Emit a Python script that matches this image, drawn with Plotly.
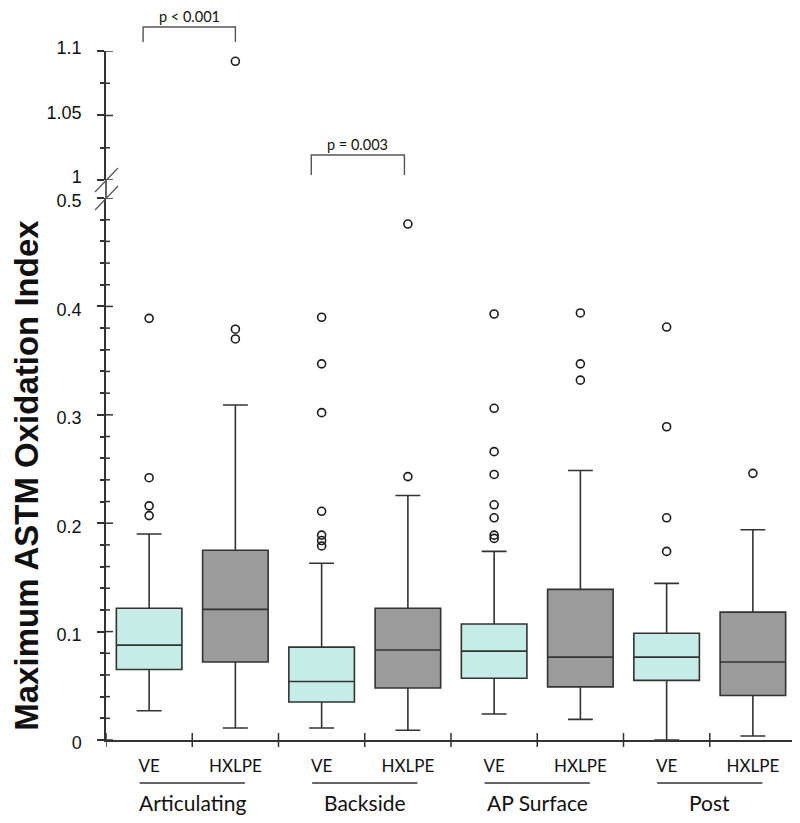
import plotly.graph_objects as go

# ---- data ----
regions = ["Articulating", "Backside", "AP Surface", "Post"]
materials = ["VE", "HXLPE"]
box_labels = ["VE", "HXLPE", "VE", "HXLPE", "VE", "HXLPE", "VE", "HXLPE"]
q1 = [0.065, 0.072, 0.035, 0.048, 0.057, 0.049, 0.055, 0.041]
median = [0.0875, 0.1205, 0.054, 0.083, 0.082, 0.0765, 0.0765, 0.072]
q3 = [0.1215, 0.175, 0.0857, 0.1215, 0.107, 0.139, 0.0985, 0.118]
lower_whisker = [0.027, 0.011, 0.011, 0.009, 0.024, 0.019, 0.0, 0.0037]
upper_whisker = [0.19, 0.309, 0.163, 0.2256, 0.174, 0.2486, 0.1445, 0.194]
outliers = [
    [0.389, 0.242, 0.216, 0.207],
    [0.379, 0.370, 1.092],
    [0.390, 0.347, 0.302, 0.211, 0.189, 0.184, 0.179],
    [0.476, 0.243],
    [0.393, 0.306, 0.266, 0.245, 0.217, 0.205, 0.189, 0.186],
    [0.394, 0.347, 0.332],
    [0.381, 0.289, 0.205, 0.174],
    [0.246],
]
lower_ticks = [0, 0.1, 0.2, 0.3, 0.4, 0.5]
lower_ticktext = ["0", "0.1", "0.2", "0.3", "0.4", "0.5"]
lower_minor = [round(k * 0.02, 2) for k in range(26) if k % 5 != 0]
upper_ticks = [1.0, 1.05, 1.1]
upper_ticktext = ["1", "1.05", "1.1"]
upper_minor = [1.025, 1.075]
p_labels = ["p < 0.001", "p = 0.003"]

fill_colors = {"VE": "#c6ece8", "HXLPE": "#9b9b9b"}
line_col = "#333333"

fig = go.Figure()

for i, lab in enumerate(box_labels):
    fig.add_trace(go.Box(
        x=[i], q1=[q1[i]], median=[median[i]], q3=[q3[i]],
        lowerfence=[lower_whisker[i]], upperfence=[upper_whisker[i]],
        fillcolor=fill_colors[lab], line=dict(color=line_col, width=1.6),
        width=0.76, whiskerwidth=0.38, boxpoints=False, showlegend=False,
        hoverinfo="skip", xaxis="x", yaxis="y",
    ))

lo_x, lo_y, hi_x, hi_y = [], [], [], []
for i, vals in enumerate(outliers):
    for v in vals:
        if v > 0.75:
            hi_x.append(i); hi_y.append(v)
        else:
            lo_x.append(i); lo_y.append(v)

mk = dict(symbol="circle-open", size=8, color="#1a1a1a", line=dict(width=1.6))
fig.add_trace(go.Scatter(x=lo_x, y=lo_y, mode="markers", marker=mk,
                         showlegend=False, xaxis="x", yaxis="y"))
fig.add_trace(go.Scatter(x=hi_x, y=hi_y, mode="markers", marker=mk,
                         showlegend=False, xaxis="x", yaxis="y2"))

lo_dom = [0, 0.7866]
hi_dom = [0.8128, 1]
tickfont = dict(family="Liberation Sans, Arial, sans-serif", size=18, color="#111")

common_y = dict(showgrid=False, zeroline=False, showline=True, linecolor=line_col,
                linewidth=1.5, ticks="outside", ticklen=7, tickwidth=1.5,
                tickcolor=line_col, tickfont=tickfont, ticklabelstandoff=12)

fig.update_layout(
    width=792, height=815,
    margin=dict(l=98, r=4, t=43, b=83),
    plot_bgcolor="white", paper_bgcolor="white",
    xaxis=dict(range=[-0.5, 7.5], tickvals=list(range(8)), ticktext=box_labels,
               showgrid=False, zeroline=False, showline=True, linecolor=line_col,
               linewidth=1.5, ticks="", anchor="y",
               tickfont=dict(family="Lato, sans-serif", size=17, color="#111"),
               ticklabelstandoff=10),
    yaxis=dict(domain=lo_dom, range=[0, 0.5], tickvals=lower_ticks,
               ticktext=lower_ticktext, anchor="x", ticklabelshift=3,
               minor=dict(tickvals=lower_minor, ticks="outside", ticklen=4,
                          tickwidth=1.5, tickcolor=line_col),
               **common_y),
    yaxis2=dict(domain=hi_dom, range=[1.0, 1.1], tickvals=upper_ticks,
                ticktext=upper_ticktext, anchor="x", ticklabelshift=-3,
                minor=dict(tickvals=upper_minor, ticks="outside", ticklen=4,
                           tickwidth=1.5, tickcolor=line_col),
                **common_y),
)

tick_line = dict(color=line_col, width=1.5)
shapes = []
# inner halves of the y-axis ticks
for yr, majors, minors in [("y", lower_ticks, lower_minor), ("y2", upper_ticks, upper_minor)]:
    for v in majors:
        shapes.append(dict(type="line", xref="paper", yref=yr, xsizemode="pixel",
                           xanchor=0, x0=0, x1=7, y0=v, y1=v, line=tick_line))
    for v in minors:
        shapes.append(dict(type="line", xref="paper", yref=yr, xsizemode="pixel",
                           xanchor=0, x0=0, x1=4, y0=v, y1=v, line=tick_line))
# x-axis crossing ticks at slot boundaries
for b in [k - 0.5 for k in range(9)]:
    shapes.append(dict(type="line", xref="x", yref="y domain", x0=b, x1=b,
                       ysizemode="pixel", yanchor=0, y0=-7, y1=7, line=tick_line))
# continuous axis line through the break gap
shapes.append(dict(type="line", xref="paper", yref="paper", x0=0, x1=0,
                   y0=lo_dom[1], y1=hi_dom[0], line=tick_line))
# break slashes
for yr, ya in [("y2 domain", 0), ("y domain", 1)]:
    shapes.append(dict(type="line", xref="paper", yref=yr, xsizemode="pixel", xanchor=0,
                       x0=-11, x1=12, ysizemode="pixel", yanchor=ya, y0=-12, y1=12,
                       line=dict(color="#555", width=1.2)))
# group underlines
for g in range(4):
    c = 2 * g + 0.5
    shapes.append(dict(type="line", xref="x", yref="paper", x0=c - 0.61, x1=c + 0.61,
                       y0=-0.0624, y1=-0.0624, line=tick_line))
# significance brackets
brackets = [(-0.07, 1.0, 1.0348, 1.0131, 1.0494), (1.88, 2.96, 0.849, 0.820, 0.865)]
for (xa, xb, yt, yb, ytxt), txt in zip(brackets, p_labels):
    shapes.append(dict(type="path", xref="x", yref="paper",
                       path=f"M {xa},{yb} L {xa},{yt} L {xb},{yt} L {xb},{yb}",
                       line=dict(color="#555", width=1.4)))
    fig.add_annotation(x=(xa + xb) / 2, y=ytxt, xref="x", yref="paper", text=txt,
                       showarrow=False, xanchor="center", yanchor="middle",
                       font=dict(family="Lato, sans-serif", size=14.5, color="#111"))
fig.update_layout(shapes=shapes)

for g, name in enumerate(regions):
    fig.add_annotation(x=2 * g + 0.5, y=-0.0914, xref="x", yref="paper", text=name,
                       showarrow=False, xanchor="center", yanchor="middle",
                       font=dict(family="Lato, sans-serif", size=21, color="#111"))

fig.add_annotation(x=-0.1145, y=0.385, xref="paper", yref="paper",
                   text="<b>Maximum ASTM Oxidation Index</b>", textangle=-90,
                   showarrow=False, xanchor="center", yanchor="middle",
                   font=dict(family="Liberation Sans, Arial, sans-serif",
                             size=33, color="#111"))

fig.write_html("out.html")
